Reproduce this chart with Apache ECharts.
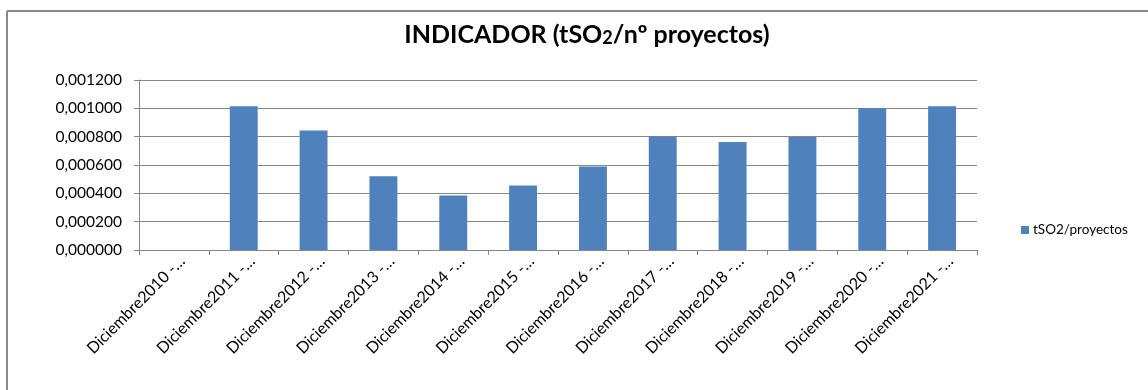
<!DOCTYPE html>
<html>
<head>
<meta charset="utf-8">
<title>INDICADOR (tSO2/nº proyectos)</title>
<script src="https://cdn.jsdelivr.net/npm/echarts@6/dist/echarts.min.js"></script>
<style>
  html, body { margin: 0; padding: 0; background: #ffffff; }
  #chart { width: 1148px; height: 390px; }
</style>
</head>
<body>
<div id="chart"></div>
<script>
// Period labels (shown truncated, as in the workbook)
const categories = [
  'Diciembre2010 -…', 'Diciembre2011 -…', 'Diciembre2012 -…', 'Diciembre2013 -…',
  'Diciembre2014 -…', 'Diciembre2015 -…', 'Diciembre2016 -…', 'Diciembre2017 -…',
  'Diciembre2018 -…', 'Diciembre2019 -…', 'Diciembre2020 -…', 'Diciembre2021 -…'
];

// tSO2 per project for each period
const seriesName = 'tSO2/proyectos';
const tso2PorProyecto = [
  0, 0.001014, 0.000844, 0.000520, 0.000384, 0.000455,
  0.000590, 0.000801, 0.000762, 0.000797, 0.001000, 0.001014
];

// Value axis range
const yMin = 0;
const yMax = 0.0012;
const yStep = 0.0002;

const FONT = 'Lato, "Open Sans", sans-serif';
const GRAY = '#868686';

const chart = echarts.init(document.getElementById('chart'), null, { renderer: 'canvas' });

chart.setOption({
  animation: false,
  backgroundColor: '#ffffff',
  title: {
    text: '{a|INDICADOR (tSO}{b|2}{a|/nº proyectos)}',
    left: 582,
    textAlign: 'center',
    top: 12,
    textStyle: {
      rich: {
        a: { fontFamily: FONT, fontSize: 25, fontWeight: 'bold', color: '#000000', lineHeight: 30, verticalAlign: 'bottom' },
        b: { fontFamily: FONT, fontSize: 18, fontWeight: 'bold', color: '#000000', lineHeight: 26, verticalAlign: 'bottom' }
      }
    }
  },
  legend: {
    data: [seriesName],
    left: 1016,
    top: 218,
    icon: 'rect',
    itemWidth: 8,
    itemHeight: 8,
    itemGap: 5,
    textStyle: { fontFamily: FONT, fontSize: 13.5, color: '#000000', padding: [0, 0, 0, -1] }
  },
  grid: {
    left: 139,
    right: 171,
    top: 80,
    bottom: 140,
    containLabel: false
  },
  xAxis: {
    type: 'category',
    data: categories,
    boundaryGap: true,
    axisLine: { show: true, lineStyle: { color: GRAY, width: 1 } },
    axisTick: { show: true, length: 5, lineStyle: { color: GRAY } },
    axisLabel: {
      rotate: 45,
      margin: 17,
      padding: [0, -12, 0, 0],
      fontFamily: FONT,
      fontSize: 16,
      color: '#000000',
      interval: 0
    },
    splitLine: { show: false }
  },
  yAxis: {
    type: 'value',
    min: yMin,
    max: yMax,
    interval: yStep,
    axisLine: { show: true, lineStyle: { color: GRAY, width: 1 } },
    axisTick: { show: true, length: 5, lineStyle: { color: GRAY } },
    axisLabel: {
      margin: 17,
      fontFamily: FONT,
      fontSize: 15.5,
      color: '#000000',
      formatter: v => v.toFixed(6).replace('.', ',')
    },
    splitLine: { show: true, lineStyle: { color: GRAY, width: 1 } }
  },
  series: [{
    name: seriesName,
    type: 'bar',
    data: tso2PorProyecto,
    barWidth: '40%',
    itemStyle: { color: '#4F81BD' }
  }],
  graphic: [
    // chart frame (top and left edges visible)
    { type: 'line', silent: true, shape: { x1: 7, y1: 11, x2: 1148, y2: 11 }, style: { stroke: '#8a8a8a', lineWidth: 2 } },
    { type: 'line', silent: true, shape: { x1: 7, y1: 11, x2: 7, y2: 390 }, style: { stroke: '#8a8a8a', lineWidth: 2 } }
  ]
});
</script>
</body>
</html>
